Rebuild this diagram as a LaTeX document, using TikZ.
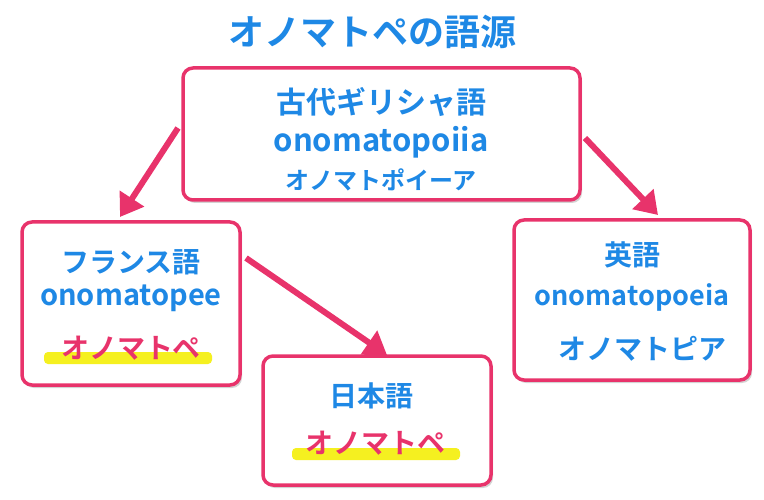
\documentclass[tikz,border=0pt]{standalone}
\usepackage{fontspec}
\setmainfont{Noto Sans CJK JP}[BoldFont={* Bold}]
\usetikzlibrary{arrows.meta,shadows}
\definecolor{pk}{HTML}{E8336B}
\definecolor{bl}{HTML}{1E88E5}
\definecolor{hl}{HTML}{F5F020}
\newcommand\fs[1]{\bfseries\fontsize{#1}{#1}\selectfont}
\begin{document}
\begin{tikzpicture}[x=1pt,y=-1pt,
 box/.style={draw=pk,line width=3.5pt,rounded corners=10pt,fill=white,drop shadow={shadow xshift=2pt,shadow yshift=-3pt,opacity=0.35}},
 tx/.style={text=bl,inner sep=0pt},
 pt/.style={text=pk,inner sep=0pt},
 arr/.style={pk,line width=6pt,-{Triangle[length=22pt,width=28pt]}}]
\useasboundingbox (0,0) rectangle (764,500);
\node[text=bl,font=\fs{36}] (title) at (372,32) {オノマトペの語源};
\draw[box] (183,68) rectangle (580,200);
\draw[box] (22,222) rectangle (240,385);
\draw[box] (263,356) rectangle (491,485);
\draw[box] (514,220) rectangle (750,380);
\node[tx,font=\fs{30}] (g1) at (381,102) {古代ギリシャ語};
\node[tx,font=\fs{31}] (g2) at (381,142) {onomatopoiia};
\node[tx,font=\fs{24}] (g3) at (381,180) {オノマトポイーア};
\node[tx,font=\fs{28}] (f1) at (131,262) {フランス語};
\node[tx,font=\fs{29}] (f2) at (131,298) {onomatopee};
\fill[hl,rounded corners=4pt] (44,352) rectangle (212,364);
\node[pt,font=\fs{28}] (f3) at (131,348) {オノマトペ};
\node[tx,font=\fs{28}] (j1) at (371,396) {日本語};
\fill[hl,rounded corners=4pt] (292,448) rectangle (460,460);
\node[pt,font=\fs{28}] (j2) at (375,443) {オノマトペ};
\node[tx,font=\fs{28}] (e1) at (632,255) {英語};
\node[tx,font=\fs{27}] (e2) at (632,297) {onomatopoeia};
\node[tx,font=\fs{28}] (e3) at (642,349) {オノマトピア};
\coordinate (a1) at (178,128); \coordinate (b1) at (120,217);
\coordinate (a2) at (585,138); \coordinate (b2) at (658,215);
\coordinate (a3) at (246,258); \coordinate (b3) at (387,355);
\draw[arr] (a1) -- (b1);
\draw[arr] (a2) -- (b2);
\draw[arr] (a3) -- (b3);
\end{tikzpicture}
\end{document}
